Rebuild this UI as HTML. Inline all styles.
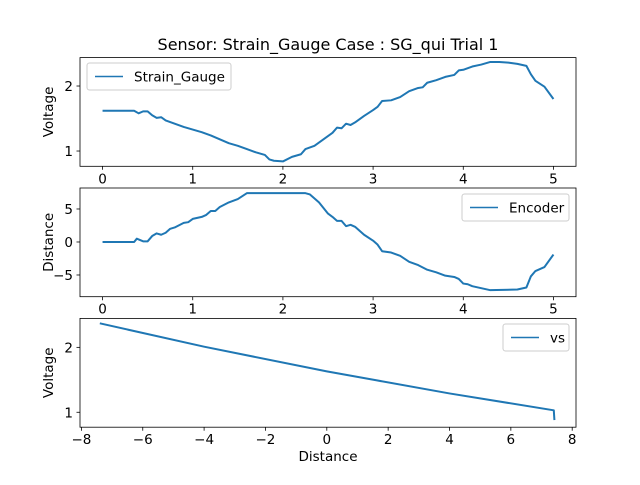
<!DOCTYPE html>
<html><head><meta charset="utf-8"><style>
body{margin:0;background:#fff}
text{font-family:"DejaVu Sans","Liberation Sans",sans-serif;fill:#000}
</style></head><body>
<svg id="chart" width="640" height="480" xmlns="http://www.w3.org/2000/svg">
<rect width="640" height="480" fill="#fff"/>
<text x="328" y="50" font-size="16" text-anchor="middle">Sensor: Strain_Gauge Case : SG_qui Trial 1</text>
</svg>
<script>
const sgTime=[0,0.35,0.4,0.45,0.5,0.55,0.6,0.65,0.7,0.8,0.9,1.0,1.1,1.2,1.3,1.4,1.5,1.6,1.7,1.8,1.85,1.9,2.0,2.1,2.2,2.25,2.35,2.45,2.55,2.6,2.65,2.7,2.75,2.8,2.9,3.0,3.05,3.1,3.2,3.3,3.4,3.5,3.55,3.6,3.7,3.8,3.9,3.95,4.0,4.1,4.2,4.3,4.4,4.5,4.6,4.7,4.75,4.8,4.9,5.0];
const sgVolt=[1.62,1.62,1.58,1.61,1.61,1.55,1.51,1.52,1.47,1.42,1.37,1.33,1.29,1.24,1.18,1.12,1.08,1.03,0.98,0.94,0.87,0.85,0.84,0.91,0.95,1.03,1.08,1.18,1.28,1.36,1.35,1.42,1.40,1.44,1.54,1.63,1.68,1.77,1.78,1.83,1.92,1.97,1.98,2.05,2.09,2.14,2.17,2.24,2.25,2.30,2.33,2.37,2.37,2.36,2.34,2.31,2.18,2.08,1.99,1.80];
const encTime=[0,0.35,0.38,0.45,0.5,0.55,0.6,0.65,0.7,0.75,0.8,0.9,0.95,1.0,1.1,1.15,1.2,1.25,1.3,1.4,1.5,1.6,2.25,2.3,2.4,2.5,2.55,2.6,2.65,2.7,2.75,2.8,2.9,3.0,3.05,3.1,3.2,3.3,3.4,3.5,3.6,3.7,3.8,3.9,3.95,4.0,4.05,4.1,4.2,4.3,4.6,4.7,4.75,4.8,4.9,5.0];
const encDist=[0,0,0.5,0.1,0.1,0.9,1.3,1.1,1.4,2.0,2.2,2.9,3.0,3.5,3.8,4.1,4.7,4.7,5.3,6.0,6.5,7.4,7.4,7.2,6.0,4.3,3.8,3.2,3.2,2.4,2.6,2.3,1.1,0.2,-0.4,-1.4,-1.6,-2.1,-3.0,-3.5,-4.2,-4.6,-5.1,-5.3,-5.6,-6.3,-6.4,-6.7,-7.0,-7.3,-7.2,-6.9,-5.2,-4.4,-3.8,-1.9];
const vsDist=[-7.4,-4,0,4,7.4,7.42];
const vsVolt=[2.37,2.01,1.63,1.29,1.03,0.88];
const tTicks=[0,1,2,3,4,5];
const v1Ticks=[1,2];
const dTicks=[-5,0,5];
const xDistTicks=[-8,-6,-4,-2,0,2,4,6,8];

const svg=document.getElementById('chart');
const NS='http://www.w3.org/2000/svg';
function mk(tag,attrs,parent){const e=document.createElementNS(NS,tag);for(const k in attrs)e.setAttribute(k,attrs[k]);(parent||svg).appendChild(e);return e;}
const L=80,R=576;
function panel(name,top,bot,xmin,xmax,ymin,ymax,xs,ys,xt,yt,ylabel,legend,lg,xlabel){
  const g=mk('g',{});
  
  
  const sx=v=>L+(v-xmin)/(xmax-xmin)*(R-L);
  const sy=v=>bot-(v-ymin)/(ymax-ymin)*(bot-top);
  const d=xs.map((x,i)=>(i?'L':'M')+sx(x).toFixed(2)+' '+sy(ys[i]).toFixed(2)).join(' ');
  const p=mk('path',{d:d,fill:'none',stroke:'#1f77b4','stroke-width':2,'stroke-linejoin':'round'},g);
  
  
  const fr=mk('rect',{x:L,y:top,width:R-L,height:bot-top,fill:'none',stroke:'#000','stroke-width':0.8},g);
  
  
  xt.forEach(t=>{const x=sx(t);mk('line',{x1:x,x2:x,y1:bot,y2:bot+3.5,stroke:'#000','stroke-width':0.8},g);
    const tx=mk('text',{x:x,y:bot+17,'font-size':13.5,'text-anchor':'middle'},g);tx.textContent=t<0?'\u2212'+(-t):t;
    
    });
  yt.forEach(t=>{const y=sy(t);mk('line',{x1:L,x2:L-3.5,y1:y,y2:y,stroke:'#000','stroke-width':0.8},g);
    const tx=mk('text',{x:L-7,y:y+5,'font-size':13.5,'text-anchor':'end'},g);tx.textContent=t<0?'\u2212'+(-t):t;
    
    });
  const yl=mk('text',{x:0,y:0,'font-size':13.5,'text-anchor':'middle',transform:`translate(53,${(top+bot)/2}) rotate(-90)`},g);
  yl.textContent=ylabel;
  
  
  if(xlabel){const xl=mk('text',{x:(L+R)/2,y:bot+34,'font-size':13.5,'text-anchor':'middle'},g);xl.textContent=xlabel;
    
    }
  const lgG=mk('g',{},g);
  
  
  mk('rect',{x:lg[0],y:lg[1],width:lg[2],height:27,rx:2.5,fill:'#fff','fill-opacity':0.8,stroke:'#ccc','stroke-width':1},lgG);
  mk('line',{x1:lg[0]+8,x2:lg[0]+36,y1:lg[1]+13.5,y2:lg[1]+13.5,stroke:'#1f77b4','stroke-width':1.5},lgG);
  const lt=mk('text',{x:lg[0]+47,y:lg[1]+18.5,'font-size':13.5},lgG);lt.textContent=legend;
  
  
}
panel('strain-gauge-panel',57.6,166.3,-0.25,5.25,0.765,2.437,sgTime,sgVolt,tTicks,v1Ticks,'Voltage','Strain_Gauge',[87,63,144]);
panel('encoder-panel',188,296.7,-0.25,5.25,-8.29,8.18,encTime,encDist,tTicks,dTicks,'Distance','Encoder',[462,194,107]);
panel('vs-panel',318.4,427.2,-8.046,8.124,0.77,2.446,vsDist,vsVolt,xDistTicks,v1Ticks,'Voltage','vs',[503,324,66],'Distance');
</script>
</body></html>
